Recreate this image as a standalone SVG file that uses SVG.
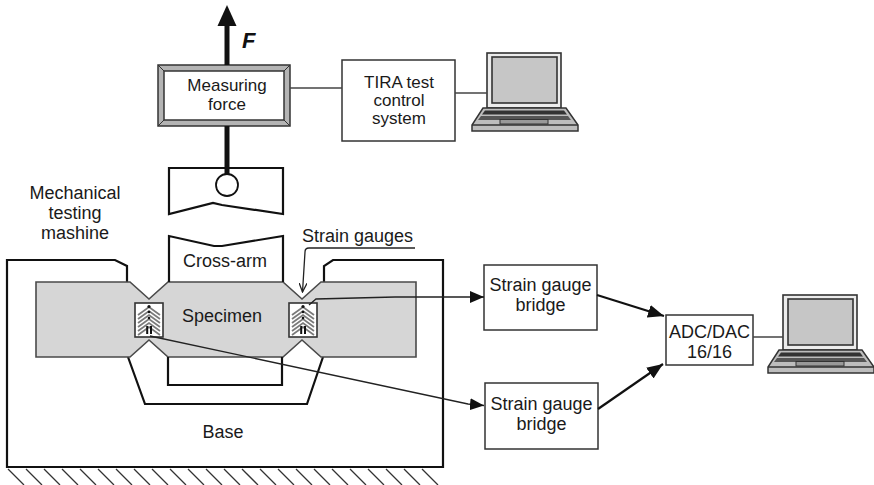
<svg xmlns="http://www.w3.org/2000/svg" xmlns:xlink="http://www.w3.org/1999/xlink" width="874" height="485" viewBox="0 0 874 485">
  <style>
    .txt { font-family: "Liberation Sans", Arial, sans-serif; font-size: 18px; fill: #1a1a1a; text-anchor: middle; }
    .sm { font-size: 17px; }
    .box { fill: #ffffff; stroke: #333333; stroke-width: 1.5; }
    .mech { fill: none; stroke: #111111; stroke-width: 2.2; stroke-linejoin: miter; }
    .wire { fill: none; stroke: #222222; stroke-width: 1.3; }
    .link { fill: none; stroke: #444444; stroke-width: 1.5; }
    .thick { fill: none; stroke: #111111; stroke-width: 2.2; }
    .hatch line { stroke: #333333; stroke-width: 1.3; }
  </style>
  <defs>
    <marker id="tri" viewBox="0 0 14 12" refX="14" refY="6" markerWidth="14" markerHeight="12" markerUnits="userSpaceOnUse" orient="auto">
      <path d="M0,0 L14,6 L0,12 z" fill="#111111"/>
    </marker>
    <marker id="triBig" viewBox="0 0 16 13" refX="16" refY="6.5" markerWidth="16" markerHeight="13" markerUnits="userSpaceOnUse" orient="auto">
      <path d="M0,0 L16,6.5 L0,13 z" fill="#111111"/>
    </marker>
    <marker id="vee" viewBox="0 0 10 8" refX="9" refY="4" markerWidth="10" markerHeight="8" markerUnits="userSpaceOnUse" orient="auto">
      <path d="M0,0 L9,4 L0,8" fill="none" stroke="#222222" stroke-width="1.3"/>
    </marker>

    <!-- laptop icon, origin at top-left of the lid -->
    <g id="laptop">
      <rect x="0" y="0" width="74" height="55" fill="#ececec" stroke="#333333" stroke-width="1.6"/>
      <rect x="5" y="4" width="65" height="46" fill="#c6c6c6" stroke="#333333" stroke-width="1.6"/>
      <polygon points="-4,55 79,55 91,72 91,78 -15,78 -15,72" fill="#bdbdbd" stroke="#333333" stroke-width="1.5"/>
      <polygon points="-2,57.5 77,57.5 80,61.5 -5,61.5" fill="#333333"/>
      <polygon points="-6,63 81,63 84,67 -9,67" fill="#555555"/>
      <line x1="-15" y1="72" x2="91" y2="72" stroke="#333333" stroke-width="1.3"/>
      <rect x="13" y="66.5" width="48" height="4.5" fill="#999999" stroke="#333333" stroke-width="1"/>
    </g>

    <!-- strain gauge glyph: foil grid on a carrier -->
    <g id="gauge">
      <rect x="0" y="0" width="28" height="34" fill="#ffffff" stroke="#333333" stroke-width="1.6"/>
      <g fill="none" stroke="#7a7a7a" stroke-width="1.8">
        <polyline points="3,12 14,4 25,12"/>
        <polyline points="3,16 14,8 25,16"/>
        <polyline points="3,20 14,12 25,20"/>
        <polyline points="3,24 14,16 25,24"/>
        <polyline points="3,28 14,20 25,28"/>
        <polyline points="3,32 14,24 25,32"/>
      </g>
      <circle cx="14" cy="3.5" r="1.6" fill="#111111"/>
      <circle cx="14" cy="9" r="1.3" fill="#111111"/>
      <circle cx="14" cy="15" r="1.3" fill="#111111"/>
      <rect x="11.2" y="23" width="2" height="8" fill="#111111"/>
      <rect x="15" y="23" width="2" height="8" fill="#111111"/>
    </g>
  </defs>

  <!-- ground hatching under the base -->
  <g class="hatch" id="ground">
    <line x1="8" y1="469" x2="24" y2="485"/>
    <line x1="26" y1="469" x2="42" y2="485"/>
    <line x1="44" y1="469" x2="60" y2="485"/>
    <line x1="62" y1="469" x2="78" y2="485"/>
    <line x1="80" y1="469" x2="96" y2="485"/>
    <line x1="98" y1="469" x2="114" y2="485"/>
    <line x1="116" y1="469" x2="132" y2="485"/>
    <line x1="134" y1="469" x2="150" y2="485"/>
    <line x1="152" y1="469" x2="168" y2="485"/>
    <line x1="170" y1="469" x2="186" y2="485"/>
    <line x1="188" y1="469" x2="204" y2="485"/>
    <line x1="206" y1="469" x2="222" y2="485"/>
    <line x1="224" y1="469" x2="240" y2="485"/>
    <line x1="242" y1="469" x2="258" y2="485"/>
    <line x1="260" y1="469" x2="276" y2="485"/>
    <line x1="278" y1="469" x2="294" y2="485"/>
    <line x1="296" y1="469" x2="312" y2="485"/>
    <line x1="314" y1="469" x2="330" y2="485"/>
    <line x1="332" y1="469" x2="348" y2="485"/>
    <line x1="350" y1="469" x2="366" y2="485"/>
    <line x1="368" y1="469" x2="384" y2="485"/>
    <line x1="386" y1="469" x2="402" y2="485"/>
    <line x1="404" y1="469" x2="420" y2="485"/>
    <line x1="422" y1="469" x2="438" y2="485"/>
  </g>

  <!-- machine base -->
  <g id="base">
    <polyline class="mech" points="127,282 127,266 115,260 7,260 7,467 443,467 443,260 333,260 324,266 324,282"/>
    <polyline class="mech" points="128,357 145,404 307,404 323,357"/>
    <text class="txt" x="223" y="438">Base</text>
  </g>

  <!-- specimen -->
  <g id="specimen">
    <polygon points="36,282 130,282 149,299 168,282 283,282 302,299 321,282 416,282 416,357 321,357 302,340 283,357 168,357 149,340 130,357 36,357" fill="#d6d6d6" stroke="#4a4a4a" stroke-width="1.6"/>
    <text class="txt" x="222" y="322">Specimen</text>
  </g>

  <!-- cross-arm -->
  <g id="cross-arm">
    <polyline class="mech" points="169,282 169,236 214,246 222,246 283,236 283,282"/>
    <polyline class="mech" points="168,357 168,385 282,385 282,357"/>
    <text class="txt" x="225" y="267">Cross-arm</text>
  </g>

  <!-- upper grip with pin -->
  <g id="upper-grip">
    <polygon class="mech" points="169,168 283,168 283,214 222,205 213,203 169,214"/>
    <circle cx="227" cy="185" r="11" fill="#ffffff" stroke="#111111" stroke-width="1.8"/>
  </g>

  <!-- strain gauges -->
  <g id="gauge-left">
    <use xlink:href="#gauge" x="135" y="303"/>
  </g>
  <g id="gauge-right">
    <use xlink:href="#gauge" x="289" y="303"/>
  </g>

  <!-- load cell -->
  <g id="measuring-force">
    <rect x="158" y="65" width="132" height="61" fill="#b4b4b4" stroke="#333333" stroke-width="1.5"/>
    <path d="M158,65 L164,71 M290,65 L284,71 M158,126 L164,120 M290,126 L284,120" stroke="#333333" stroke-width="1"/>
    <rect x="164" y="71" width="120" height="49" fill="#ffffff" stroke="#333333" stroke-width="1.5"/>
    <text class="txt sm" x="227" y="91">Measuring</text>
    <text class="txt sm" x="227" y="110">force</text>
  </g>

  <g id="tira">
    <rect class="box" x="342" y="60" width="113" height="81"/>
    <text class="txt sm" x="399" y="88">TIRA test</text>
    <text class="txt sm" x="399" y="106">control</text>
    <text class="txt sm" x="399" y="124">system</text>
  </g>

  <g id="laptop-top">
    <use xlink:href="#laptop" x="487" y="53"/>
  </g>

  <g id="bridge-1">
    <rect class="box" x="484" y="265" width="113" height="65"/>
    <text class="txt" x="540.5" y="291">Strain gauge</text>
    <text class="txt" x="540.5" y="311">bridge</text>
  </g>

  <g id="bridge-2">
    <rect class="box" x="485" y="383" width="113" height="66"/>
    <text class="txt" x="541.5" y="410">Strain gauge</text>
    <text class="txt" x="541.5" y="430">bridge</text>
  </g>

  <g id="adc-dac">
    <rect class="box" x="666" y="315" width="87" height="50"/>
    <text class="txt" x="709.5" y="338">ADC/DAC</text>
    <text class="txt" x="709.5" y="358">16/16</text>
  </g>

  <g id="laptop-bottom">
    <use xlink:href="#laptop" x="783" y="295"/>
  </g>

  <g id="label-machine">
    <text class="txt" x="75" y="199">Mechanical</text>
    <text class="txt" x="75" y="219">testing</text>
    <text class="txt" x="75" y="239">mashine</text>
  </g>

  <g id="label-gauges">
    <text class="txt" x="302" y="242" style="text-anchor:start">Strain gauges</text>
  </g>

  <!-- connectors -->
  <g id="connectors">
    <!-- pulling force on the load cell -->
    <line x1="227" y1="65" x2="227" y2="22" stroke="#111111" stroke-width="5"/>
    <polygon points="227,5 217.5,26 236.5,26" fill="#111111"/>
    <line x1="227" y1="126" x2="227" y2="174" stroke="#111111" stroke-width="5"/>
    <text x="242" y="48" style="font-family:'Liberation Sans', Arial, sans-serif;font-size:22px;font-weight:bold;font-style:italic;fill:#111111">F</text>

    <line class="link" x1="290" y1="88" x2="342" y2="88"/>
    <line class="link" x1="455" y1="93" x2="487" y2="93"/>
    <line class="link" x1="753" y1="337" x2="783" y2="337"/>

    <path class="wire" d="M415,248 H309 Q305,248 305,252 L302.5,292" marker-end="url(#vee)"/>

    <path class="wire" d="M309,305 L316,299 L395,297 L484,297" marker-end="url(#tri)"/>
    <path class="wire" d="M150,336 L468,404 L484,405.5" marker-end="url(#tri)"/>

    <line class="thick" x1="597" y1="295" x2="664" y2="316" marker-end="url(#triBig)"/>
    <line class="thick" x1="598" y1="409" x2="663" y2="364" marker-end="url(#triBig)"/>
  </g>
</svg>
